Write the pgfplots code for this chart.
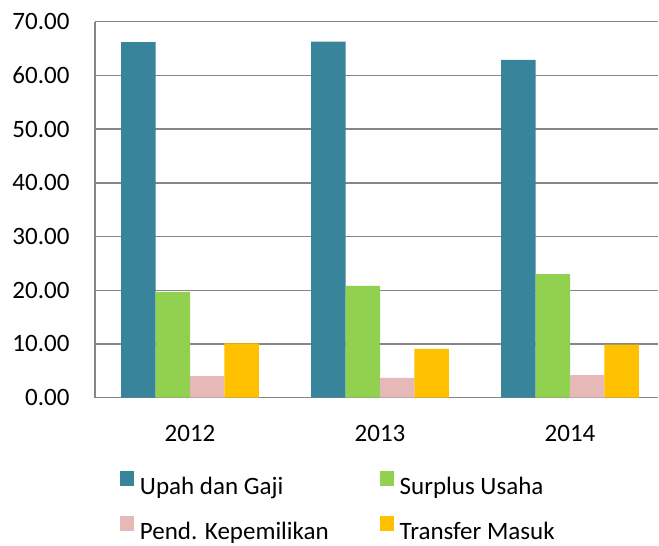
\documentclass[border=0pt]{standalone}
\usepackage{fontspec}
\setmainfont{Carlito}
\usepackage{pgfplots}
\pgfplotsset{compat=1.18}
\definecolor{cUpah}{HTML}{38849A}
\definecolor{cSurplus}{HTML}{92D050}
\definecolor{cPend}{HTML}{E6B9B8}
\definecolor{cTransfer}{HTML}{FFC000}
\definecolor{gridgray}{HTML}{868686}
\begin{document}
\fontsize{25bp}{30bp}\selectfont
\begin{tikzpicture}
\path[use as bounding box] (0,0) rectangle (659bp,546bp);
\begin{axis}[
  at={(95bp,148.3bp)}, anchor=south west,
  scale only axis, width=563bp, height=376bp,
  xmin=-0.5, xmax=2.463, ymin=0, ymax=70,
  ybar=0pt, bar width=0.181,
  legend image code/.code={\fill[#1,draw=none] (0bp,1bp) rectangle (14bp,16bp);},
  ytick={0,10,...,70},
  xtick={0,1,2}, xticklabels={2012,2013,2014},
  major tick length=0pt,
  ymajorgrids, grid style={draw=gridgray, line width=1.5bp},
  axis x line*=bottom, axis y line*=left,
  axis line style={draw=gridgray, line width=1.5bp},
  every tick label/.append style={font=\fontsize{25bp}{30bp}\selectfont, text=black},
  yticklabel style={/pgf/number format/fixed, /pgf/number format/fixed zerofill, /pgf/number format/precision=2, /pgf/number format/assume math mode=true, xshift=-17bp},
  xticklabel style={yshift=-19bp},
  legend columns=2,
  legend cell align=left,
  legend style={draw=none, fill=none, at={(axis description cs:0.0444,-0.196)}, anchor=north west,
    inner sep=0pt, outer sep=0pt, font=\fontsize{25bp}{30bp}\selectfont,
    nodes={inner sep=0pt}, row sep=18.5bp,
    /tikz/every odd column/.append style={column sep=6bp},
    /tikz/every even column/.append style={column sep=51bp}},
]
\addplot[fill=cUpah, draw=none] coordinates {(0,66.2) (1,66.3) (2,62.9)};
\addplot[fill=cSurplus, draw=none] coordinates {(0,19.7) (1,20.8) (2,23.0)};
\addplot[fill=cPend, draw=none] coordinates {(0,4.0) (1,3.7) (2,4.2)};
\addplot[fill=cTransfer, draw=none] coordinates {(0,10.1) (1,9.1) (2,9.9)};
\legend{Upah dan Gaji, Surplus Usaha, Pend. Kepemilikan, Transfer Masuk}
\end{axis}
\end{tikzpicture}
\end{document}
